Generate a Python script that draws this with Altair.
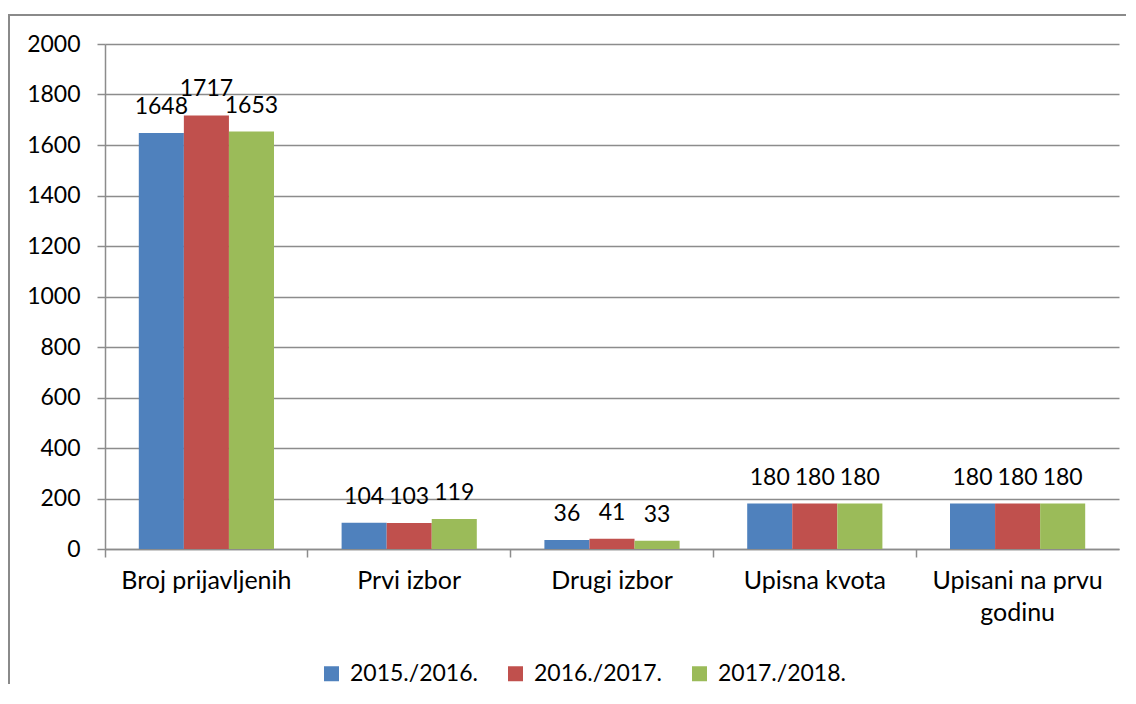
import altair as alt
import pandas as pd

categories = ["Broj prijavljenih", "Prvi izbor", "Drugi izbor", "Upisna kvota", "Upisani na prvu godinu"]
years = ["2015./2016.", "2016./2017.", "2017./2018."]
v2015 = [1648, 104, 36, 180, 180]
v2016 = [1717, 103, 41, 180, 180]
v2017 = [1653, 119, 33, 180, 180]
colors = ["#4F81BD", "#C0504D", "#9BBB59"]

rows = []
for yr, vals in zip(years, [v2015, v2016, v2017]):
    for c, v in zip(categories, vals):
        rows.append({"kategorija": c, "godina": yr, "vrijednost": v})
df = pd.DataFrame(rows)

FONT = "Lato"
GRID = "#8c8c8c"
NUM_FS = 23
CAT_FS = 25

x = alt.X("kategorija:N", sort=categories, title=None,
          scale=alt.Scale(paddingInner=0, paddingOuter=0),
          axis=alt.Axis(labelAngle=0, labelFont=FONT, labelFontSize=CAT_FS, labelColor="#000000",
                        bandPosition=0, tickSize=8, tickColor=GRID, tickWidth=1.5,
                        domainColor=GRID, domainWidth=1.5, labelPadding=11,
                        labelLineHeight=32, labelLimit=300, grid=False,
                        labelExpr="datum.label == 'Upisani na prvu godinu' ? ['Upisani na prvu', 'godinu'] : datum.label"))
xo = alt.XOffset("godina:N", sort=years, scale=alt.Scale(paddingInner=0, paddingOuter=0.75))
y = alt.Y("vrijednost:Q", title=None,
          scale=alt.Scale(domain=[0, 2000], nice=False),
          axis=alt.Axis(values=list(range(0, 2001, 200)), format="d", labelFont=FONT,
                        labelFontSize=NUM_FS, labelColor="#000000", tickSize=8, tickColor=GRID,
                        tickWidth=1.5, domainColor=GRID, domainWidth=1.5, gridColor=GRID,
                        gridWidth=1.5, labelPadding=17))

bars = alt.Chart(df).mark_bar(stroke=None).encode(
    x=x, xOffset=xo, y=y,
    color=alt.Color("godina:N", sort=years, title=None,
                    scale=alt.Scale(domain=years, range=colors),
                    legend=alt.Legend(orient="none", direction="horizontal", legendX=215, legendY=618,
                                      symbolType="square", symbolSize=225, symbolStrokeWidth=0,
                                      labelFont=FONT, labelFontSize=NUM_FS, labelColor="#000000",
                                      columnPadding=26, symbolOffset=0, labelOffset=7,
                                      labelLimit=300))
)

labels = alt.Chart(df).mark_text(font=FONT, fontSize=NUM_FS, color="#000000",
                                 baseline="alphabetic", dy=-19).encode(
    x=alt.X("kategorija:N", sort=categories), xOffset=xo, y=alt.Y("vrijednost:Q"),
    text=alt.Text("vrijednost:Q", format="d")
)

# outer chart-area frame (top and left edges, as in the reference), kept inside the canvas
frame_top = alt.Chart(df).mark_rect(color="#8a8a8a", strokeWidth=0).encode(
    x=alt.value(-97), x2=alt.value(1021), y=alt.value(-30), y2=alt.value(-28)
)
frame_left = alt.Chart(df).mark_rect(color="#8a8a8a", strokeWidth=0).encode(
    x=alt.value(-97), x2=alt.value(-95), y=alt.value(-30), y2=alt.value(640)
)

chart = alt.layer(bars, labels, frame_top, frame_left).properties(
    width=1014, height=505,
    autosize=alt.AutoSizeParams(type="none"),
    padding={"left": 97, "top": 36, "right": 8, "bottom": 136},
    background="white",
).configure_view(stroke=None, strokeWidth=0)

chart.save("out.html", embed_options={"renderer": "svg", "actions": False})
